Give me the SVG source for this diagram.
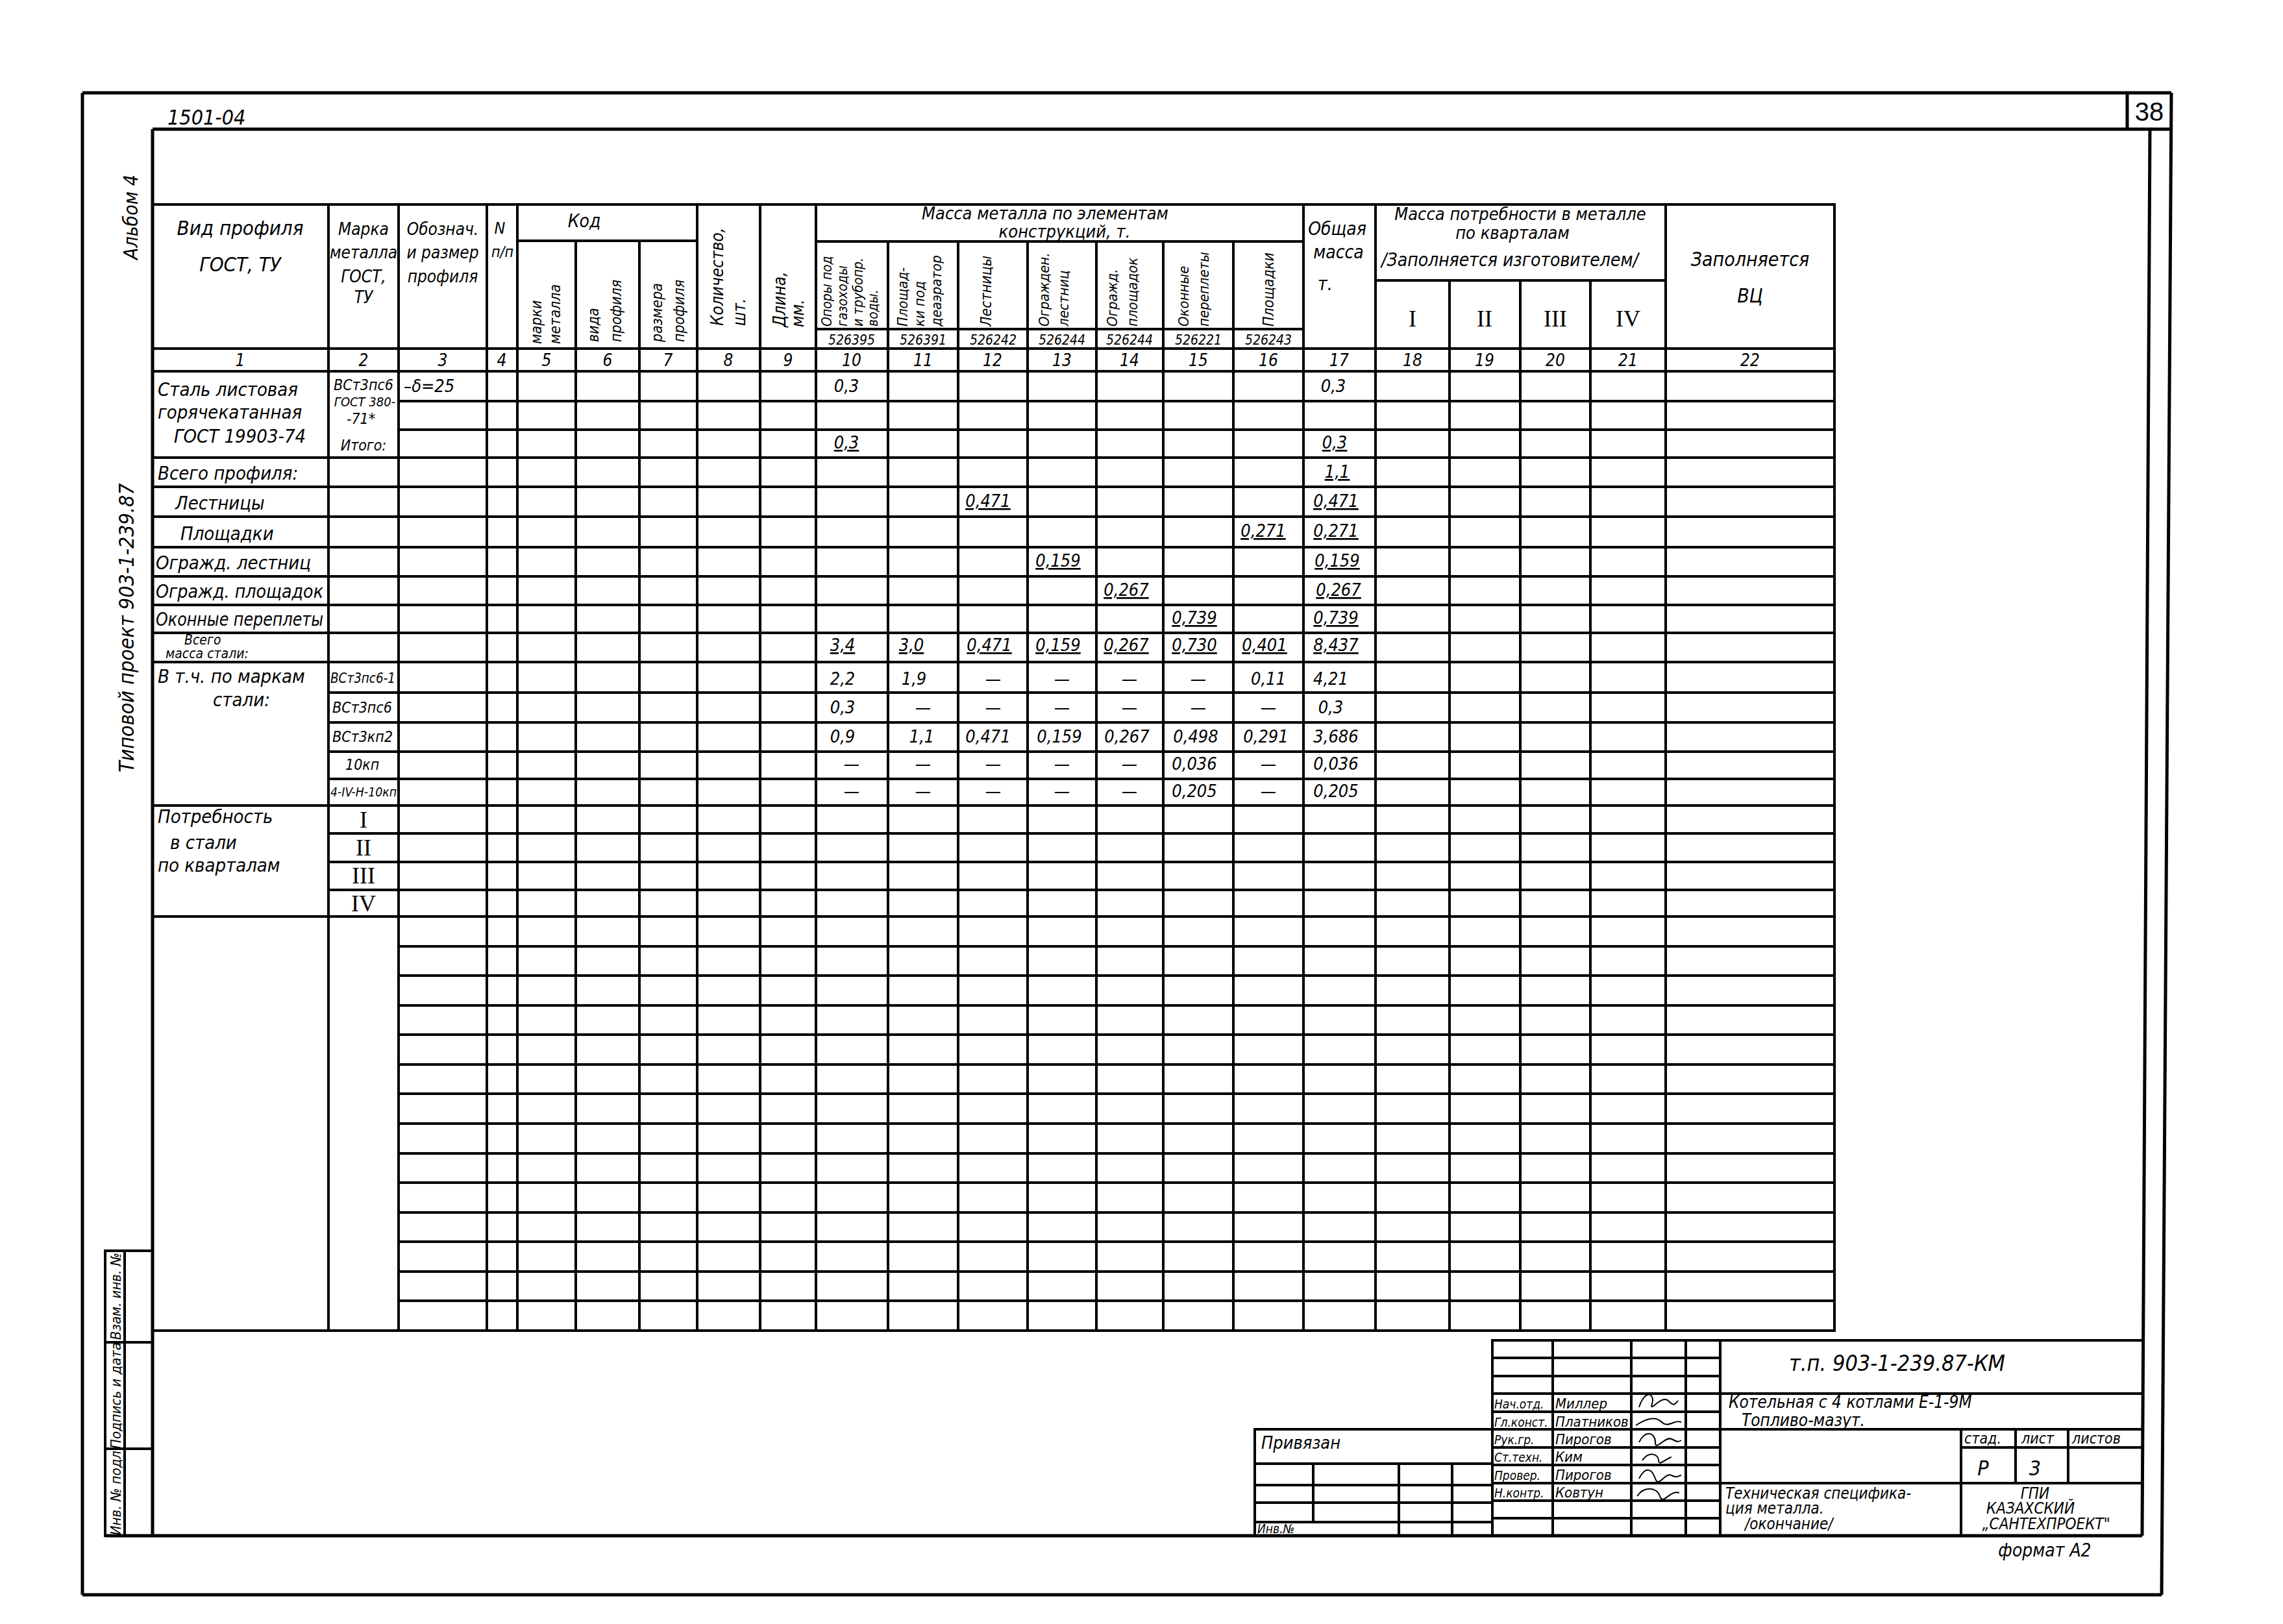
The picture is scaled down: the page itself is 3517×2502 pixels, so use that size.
<svg xmlns="http://www.w3.org/2000/svg" width="3517" height="2502" viewBox="0 0 3517 2502">
<style>
.ln{stroke:#000;stroke-width:4;fill:none;stroke-linecap:square}
.fr{stroke:#000;stroke-width:5;fill:none}
.t{font-family:"DejaVu Sans Condensed","DejaVu Sans","Liberation Sans",sans-serif;font-stretch:condensed;font-style:italic;fill:#000}
.c{text-anchor:middle}
.h{font-size:28px}
.s{font-size:23px}
.d{font-size:27px}
.u{text-decoration:underline}
.uu{text-decoration:underline;text-decoration-style:double}
.r{font-family:"Liberation Serif","DejaVu Serif",serif;font-size:36px;text-anchor:middle;fill:#000}
.sg{stroke:#000;stroke-width:2;fill:none}
</style>
<rect width="3517" height="2502" fill="#fff"/>

<g id="frame">
<path class="fr" d="M127 143H3345 M127 143V2457 M127 2457H3330 M3345 143L3330 2457 M235 199H3345 M3277 143V199 M3312 199L3300 2366 M162 2366H3300 M235 199V2366"/>
<text class="t" x="258" y="192" font-size="32">1501-04</text>
<text x="3311" y="186" font-family="Liberation Sans,sans-serif" font-size="40" text-anchor="middle">38</text>
<text class="t" font-size="30" transform="translate(212 400) rotate(-90)">Альбом 4</text>
<text class="t" font-size="32" transform="translate(206 1190) rotate(-90)">Типовой проект   903-1-239.87</text>
</g>

<g id="left-stamp">
<path class="ln" d="M162 1927H235 M162 2068H235 M162 2232H235 M162 1927V2366 M192 1927V2366"/>
<text class="t c" font-size="22" transform="translate(186 2297) rotate(-90)">Инв. № подл.</text>
<text class="t c" font-size="22" transform="translate(186 2150) rotate(-90)">Подпись и дата</text>
<text class="t c" font-size="22" transform="translate(186 1997) rotate(-90)">Взам. инв. №</text>
</g>

<g id="table-grid">
<path class="ln" d="M235 315H2826 M797 371H1074 M1257 372H2008 M2119 432H2566 M1257 507H2008 M235 537H2826 M235 572H2826
M614 618H2826 M614 662H2826
M235 705H2826 M235 750H2826 M235 796H2826 M235 843H2826 M235 888H2826 M235 932H2826 M235 975H2826 M235 1020H2826
M506 1067H2826 M506 1113H2826 M506 1158H2826 M506 1200H2826 M235 1241H2826
M506 1284H2826 M506 1328H2826 M506 1371H2826 M235 1412H2826
M614 1458H2826 M614 1503H2826 M614 1549H2826 M614 1594H2826 M614 1640H2826 M614 1685H2826 M614 1731H2826 M614 1777H2826 M614 1822H2826 M614 1868H2826 M614 1913H2826 M614 1959H2826 M614 2004H2826
M235 2050H2826
M506 315V2050 M614 315V2050 M750 315V2050 M797 315V2050 M887 371V2050 M985 371V2050 M1074 315V2050 M1171 315V2050 M1257 315V2050
M1368 372V2050 M1476 372V2050 M1583 372V2050 M1689 372V2050 M1792 372V2050 M1900 372V2050
M2008 315V2050 M2119 315V2050 M2233 432V2050 M2342 432V2050 M2450 432V2050 M2566 315V2050 M2826 315V2050"/>
</g>

<g id="header">
<text class="t c" font-size="31" x="370" y="362">Вид профиля</text>
<text class="t c" font-size="31" x="370" y="418">ГОСТ, ТУ</text>
<text class="t c" x="560" y="362" font-size="26">Марка</text>
<text class="t c" x="560" y="398" font-size="26">металла</text>
<text class="t c" x="560" y="435" font-size="26">ГОСТ,</text>
<text class="t c" x="560" y="467" font-size="26">ТУ</text>
<text class="t c" x="682" y="362" font-size="26">Обознач.</text>
<text class="t c" x="682" y="398" font-size="26">и размер</text>
<text class="t c" x="682" y="435" font-size="26">профиля</text>
<text class="t c" x="770" y="360" font-size="25">N</text>
<text class="t c s" x="774" y="396">п/п</text>
<text class="t c h" x="900" y="350">Код</text>
<text class="t s" transform="translate(834 530) rotate(-90)">марки</text>
<text class="t s" transform="translate(863 530) rotate(-90)">металла</text>
<text class="t s" transform="translate(922 527) rotate(-90)">вида</text>
<text class="t s" transform="translate(957 527) rotate(-90)">профиля</text>
<text class="t s" transform="translate(1020 527) rotate(-90)">размера</text>
<text class="t s" transform="translate(1054 527) rotate(-90)">профиля</text>
<text class="t" font-size="26" transform="translate(1114 502) rotate(-90)">Количество,</text>
<text class="t" font-size="26" transform="translate(1148 502) rotate(-90)">шт.</text>
<text class="t" font-size="26" transform="translate(1210 504) rotate(-90)">Длина,</text>
<text class="t" font-size="26" transform="translate(1238 504) rotate(-90)">мм.</text>

<text class="t c" font-size="27" x="1610" y="338">Масса  металла  по  элементам</text>
<text class="t c" font-size="27" x="1640" y="366">конструкций, т.</text>
<text class="t" font-size="21" transform="translate(1281 503) rotate(-90)">Опоры под</text>
<text class="t" font-size="21" transform="translate(1305 503) rotate(-90)">газоходы</text>
<text class="t" font-size="21" transform="translate(1329 503) rotate(-90)">и трубопр.</text>
<text class="t" font-size="21" transform="translate(1352 503) rotate(-90)">воды.</text>
<text class="t" font-size="22" transform="translate(1398 503) rotate(-90)">Площад-</text>
<text class="t" font-size="22" transform="translate(1424 503) rotate(-90)">ки под</text>
<text class="t" font-size="22" transform="translate(1450 503) rotate(-90)">деаэратор</text>
<text class="t" font-size="23" transform="translate(1527 503) rotate(-90)">Лестницы</text>
<text class="t" font-size="22" transform="translate(1616 503) rotate(-90)">Огражден.</text>
<text class="t" font-size="22" transform="translate(1646 503) rotate(-90)">лестниц</text>
<text class="t" font-size="22" transform="translate(1721 503) rotate(-90)">Огражд.</text>
<text class="t" font-size="22" transform="translate(1752 503) rotate(-90)">площадок</text>
<text class="t" font-size="22" transform="translate(1831 503) rotate(-90)">Оконные</text>
<text class="t" font-size="22" transform="translate(1862 503) rotate(-90)">переплеты</text>
<text class="t" font-size="23" transform="translate(1962 503) rotate(-90)">Площадки</text>
<g class="t c" font-size="21">
<text x="1312" y="531">526395</text><text x="1422" y="531">526391</text><text x="1530" y="531">526242</text><text x="1636" y="531">526244</text><text x="1740" y="531">526244</text><text x="1846" y="531">526221</text><text x="1954" y="531">526243</text>
</g>

<text class="t c h" x="2060" y="362">Общая</text>
<text class="t c h" x="2062" y="398">масса</text>
<text class="t h" x="2030" y="447">т.</text>
<text class="t c" font-size="27" x="2342" y="339">Масса  потребности  в металле</text>
<text class="t c" font-size="27" x="2330" y="368">по  кварталам</text>
<text class="t c h" x="2326" y="410">/Заполняется  изготовителем/</text>
<text class="r" x="2176" y="503">I</text>
<text class="r" x="2287" y="503">II</text>
<text class="r" x="2396" y="503">III</text>
<text class="r" x="2508" y="503">IV</text>
<text class="t c" font-size="30" x="2696" y="410">Заполняется</text>
<text class="t c" font-size="30" x="2696" y="466">ВЦ</text>

<g class="t c" font-size="26">
<text x="370" y="564">1</text><text x="560" y="564">2</text><text x="682" y="564">3</text><text x="773" y="564">4</text><text x="842" y="564">5</text><text x="936" y="564">6</text><text x="1029" y="564">7</text><text x="1122" y="564">8</text><text x="1214" y="564">9</text><text x="1312" y="564">10</text><text x="1422" y="564">11</text><text x="1529" y="564">12</text><text x="1636" y="564">13</text><text x="1740" y="564">14</text><text x="1846" y="564">15</text><text x="1954" y="564">16</text><text x="2063" y="564">17</text><text x="2176" y="564">18</text><text x="2287" y="564">19</text><text x="2396" y="564">20</text><text x="2508" y="564">21</text><text x="2696" y="564">22</text>
</g>
</g>

<g id="row-labels">
<text class="t" font-size="29" x="243" y="610">Сталь листовая</text>
<text class="t" font-size="29" x="243" y="645">горячекатанная</text>
<text class="t" font-size="29" x="268" y="682">ГОСТ 19903-74</text>
<text class="t c s" x="560" y="601">ВСт3пс6</text>
<text class="t c" font-size="20" x="562" y="626">ГОСТ 380-</text>
<text class="t c s" x="556" y="653">-71*</text>
<text class="t c s" x="560" y="694">Итого:</text>
<text class="t d" x="622" y="604">–δ=25</text>
<text class="t" font-size="29" x="243" y="739">Всего профиля:</text>
<text class="t" font-size="29" x="270" y="785">Лестницы</text>
<text class="t" font-size="29" x="278" y="832">Площадки</text>
<text class="t" font-size="29" x="240" y="877">Огражд. лестниц</text>
<text class="t" font-size="28" x="240" y="921" textLength="258" lengthAdjust="spacingAndGlyphs">Огражд. площадок</text>
<text class="t" font-size="28" x="240" y="964" textLength="258" lengthAdjust="spacingAndGlyphs">Оконные переплеты</text>
<text class="t" font-size="21" x="284" y="993">Всего</text>
<text class="t" font-size="21" x="255" y="1014">масса стали:</text>
<text class="t" font-size="29" x="243" y="1052">В т.ч. по маркам</text>
<text class="t" font-size="29" x="328" y="1088">стали:</text>
<text class="t" font-size="22" x="509" y="1052" textLength="100" lengthAdjust="spacingAndGlyphs">ВСт3пс6-1</text>
<text class="t s" x="512" y="1098">ВСт3пс6</text>
<text class="t s" x="512" y="1143">ВСт3кп2</text>
<text class="t s" x="532" y="1186">10кп</text>
<text class="t" font-size="19" x="509" y="1227" textLength="102" lengthAdjust="spacingAndGlyphs">4-IV-Н-10кп</text>
<text class="t" font-size="29" x="243" y="1268">Потребность</text>
<text class="t" font-size="29" x="262" y="1308">в стали</text>
<text class="t" font-size="29" x="243" y="1343">по кварталам</text>
<text class="r" x="560" y="1275" font-size="32">I</text>
<text class="r" x="560" y="1318" font-size="32">II</text>
<text class="r" x="560" y="1361" font-size="32">III</text>
<text class="r" x="560" y="1404" font-size="32">IV</text>
</g>

<g id="values" class="t c d">
<text x="1304" y="604">0,3</text><text x="2054" y="604">0,3</text>
<text x="1304" y="691" class="u">0,3</text><text x="2056" y="691" class="u">0,3</text>
<text x="2060" y="736" class="u">1,1</text>
<text x="1522" y="781" class="u">0,471</text><text x="2058" y="781" class="u">0,471</text>
<text x="1946" y="827" class="u">0,271</text><text x="2058" y="827" class="u">0,271</text>
<text x="1630" y="873" class="u">0,159</text><text x="2060" y="873" class="u">0,159</text>
<text x="1735" y="918" class="u">0,267</text><text x="2062" y="918" class="u">0,267</text>
<text x="1840" y="961" class="u">0,739</text><text x="2058" y="961" class="u">0,739</text>
<text x="1298" y="1003" class="u">3,4</text><text x="1404" y="1003" class="u">3,0</text><text x="1524" y="1003" class="u">0,471</text><text x="1630" y="1003" class="u">0,159</text><text x="1735" y="1003" class="u">0,267</text><text x="1840" y="1003" class="u">0,730</text><text x="1948" y="1003" class="u">0,401</text><text x="2058" y="1003" class="uu">8,437</text>
<text x="1298" y="1055">2,2</text><text x="1408" y="1055">1,9</text><text x="1530" y="1055">—</text><text x="1636" y="1055">—</text><text x="1740" y="1055">—</text><text x="1846" y="1055">—</text><text x="1954" y="1055">0,11</text><text x="2050" y="1055">4,21</text>
<text x="1298" y="1099">0,3</text><text x="1422" y="1099">—</text><text x="1530" y="1099">—</text><text x="1636" y="1099">—</text><text x="1740" y="1099">—</text><text x="1846" y="1099">—</text><text x="1954" y="1099">—</text><text x="2050" y="1099">0,3</text>
<text x="1298" y="1144">0,9</text><text x="1420" y="1144">1,1</text><text x="1522" y="1144">0,471</text><text x="1632" y="1144">0,159</text><text x="1736" y="1144">0,267</text><text x="1842" y="1144">0,498</text><text x="1950" y="1144">0,291</text><text x="2058" y="1144">3,686</text>
<text x="1312" y="1186">—</text><text x="1422" y="1186">—</text><text x="1530" y="1186">—</text><text x="1636" y="1186">—</text><text x="1740" y="1186">—</text><text x="1840" y="1186">0,036</text><text x="1954" y="1186">—</text><text x="2058" y="1186">0,036</text>
<text x="1312" y="1228">—</text><text x="1422" y="1228">—</text><text x="1530" y="1228">—</text><text x="1636" y="1228">—</text><text x="1740" y="1228">—</text><text x="1840" y="1228">0,205</text><text x="1954" y="1228">—</text><text x="2058" y="1228">0,205</text>
</g>

<g id="privyazan">
<path class="ln" d="M1933 2202H2299 M1933 2202V2366 M1933 2255H2299 M1933 2288H2299 M1933 2315H2299 M1933 2345H2299 M2023 2255V2345 M2155 2255V2366 M2237 2255V2366"/>
<text class="t" font-size="27" x="1943" y="2232">Привязан</text>
<text class="t" font-size="19" x="1937" y="2362">Инв.№</text>
</g>

<g id="title-block">
<path class="ln" d="M2299 2065H3300 M2299 2092H2650 M2299 2120H2650 M2299 2147H3300 M2299 2175H2650 M2299 2202H3300 M2299 2230H2650 M3021 2230H3300 M2299 2257H2650 M2299 2285H3300 M2299 2312H2650 M2299 2339H2650
M2299 2065V2366 M2392 2065V2366 M2513 2065V2366 M2597 2065V2366 M2650 2065V2366 M3021 2202V2366 M3105 2202V2285 M3186 2202V2285"/>
<g class="t" font-size="19">
<text x="2302" y="2170">Нач.отд.</text><text x="2302" y="2198">Гл.конст.</text><text x="2302" y="2225">Рук.гр.</text><text x="2302" y="2252">Ст.техн.</text><text x="2302" y="2280">Провер.</text><text x="2302" y="2307">Н.контр.</text>
</g>
<g class="t" font-size="22">
<text x="2396" y="2170">Миллер</text><text x="2396" y="2198">Платников</text><text x="2396" y="2225">Пирогов</text><text x="2396" y="2252">Ким</text><text x="2396" y="2280">Пирогов</text><text x="2396" y="2307">Ковтун</text>
</g>
<path class="sg" d="M2525 2168c10-30 25-20 20-5s15-15 25-5 10 5 15 0 M2520 2196c15-10 30-15 40-5s20-5 30 0 M2525 2222c10-20 25-15 25 0s15-10 25-5 10 5 15 2 M2530 2250c10-15 25-10 25 0s15-5 20-5 M2525 2278c10-20 20-15 25 0s15-10 25-5 10 0 15 0 M2522 2305c10-15 30-15 35 0s15-10 30-5"/>
<text class="t" font-size="34" x="2756" y="2112">т.п.  903-1-239.87-КМ</text>
<text class="t" font-size="26" x="2663" y="2169">Котельная с 4 котлами Е-1-9М</text>
<text class="t" font-size="26" x="2683" y="2197">Топливо-мазут.</text>
<text class="t s" x="3026" y="2224">стад.</text>
<text class="t s" x="3114" y="2224">лист</text>
<text class="t s" x="3192" y="2224">листов</text>
<text class="t c" font-size="32" x="3055" y="2273">Р</text>
<text class="t c" font-size="32" x="3135" y="2273">3</text>
<text class="t" font-size="24" x="2658" y="2309">Техническая специфика-</text>
<text class="t" font-size="24" x="2658" y="2332">ция металла.</text>
<text class="t" font-size="24" x="2688" y="2356">/окончание/</text>
<text class="t c" font-size="24" x="3135" y="2309">ГПИ</text>
<text class="t c" font-size="24" x="3128" y="2332">КАЗАХСКИЙ</text>
<text class="t c" font-size="24" x="3152" y="2356">„САНТЕХПРОЕКТ"</text>
<text class="t c" font-size="28" x="3150" y="2398">формат А2</text>
</g>
</svg>
